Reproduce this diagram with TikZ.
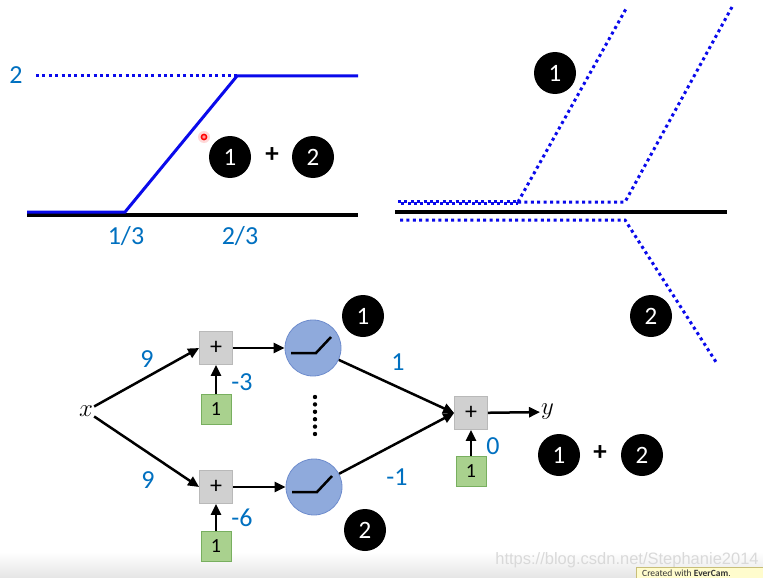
\documentclass[tikz,border=0pt]{standalone}
\usepackage{fontspec}
\setmainfont{Carlito}
\newfontfamily\wmfont{Liberation Sans}
\usetikzlibrary{arrows.meta}
\definecolor{lblue}{RGB}{0,112,192}
\definecolor{cblue}{RGB}{10,10,235}
\definecolor{sumfill}{RGB}{208,208,208}
\definecolor{sumdraw}{RGB}{185,185,185}
\definecolor{biasfill}{RGB}{169,209,142}
\definecolor{biasdraw}{RGB}{120,175,95}
\definecolor{neurfill}{RGB}{143,170,220}
\definecolor{neurdraw}{RGB}{110,140,205}
\definecolor{evfill}{RGB}{255,252,205}
\definecolor{evdraw}{RGB}{200,190,120}
\begin{document}
\begin{tikzpicture}[x=1pt,y=-1pt,
  numc/.style={circle,fill=black,text=white,minimum size=42pt,inner sep=0pt,font=\fontsize{25}{25}\selectfont},
  plusbig/.style={font=\bfseries\fontsize{27}{27}\selectfont},
  lbl/.style={text=lblue,font=\fontsize{26}{26}\selectfont,inner sep=0pt},
  sumbox/.style={draw=sumdraw,fill=sumfill,minimum size=33pt,inner sep=0pt,line width=0.8pt,font=\fontsize{24}{24}\selectfont},
  biasbox/.style={draw=biasdraw,fill=biasfill,minimum size=30pt,inner sep=0pt,line width=0.8pt,font=\fontsize{20}{20}\selectfont},
  neuron/.style={circle,draw=neurdraw,fill=neurfill,minimum size=56pt,inner sep=0pt,line width=0.8pt},
  conn/.style={line width=2.5pt,-{Triangle[length=11pt,width=10pt]}},
  plain/.style={line width=2.5pt},
  axis/.style={line width=4pt,black},
  curve/.style={line width=3pt,cblue},
  dotline/.style={line width=3pt,cblue,dash pattern=on 3pt off 3.4pt},
  varl/.style={font=\fontsize{27}{27}\selectfont,inner sep=1pt}
]
\useasboundingbox (0,0) rectangle (763,578);
\fill[white] (0,0) rectangle (763,578);
\shade[top color=white,bottom color=black!10] (0,552) rectangle (763,578);

% ---------- top-left graph ----------
\draw[axis] (27,215) -- (358,215);
\draw[dotline] (36,76) -- (237,76);
\draw[curve] (27,212) -- (125,212) -- (237,76) -- (358,76);
\node[lbl] (ltwo) at (16,75) {2};
\node[lbl] (lthird) at (126,236) {1/3};
\node[lbl] (ltwothird) at (240,236) {2/3};
\node[numc] (tlone) at (230,157) {1};
\node[plusbig] (tlplus) at (272,155) {+};
\node[numc] (tltwo) at (313,157) {2};
% laser pointer dot
\fill[red!25,opacity=0.6] (204,137) circle (6pt);
\draw[red,line width=1.5pt,fill=red!40] (204,137) circle (2.6pt);

% ---------- top-right graph ----------
\draw[axis] (395,212) -- (727,212);
\draw[dotline] (398,201) -- (518,201);
\draw[dotline,dash phase=3.2pt] (398,203.5) -- (518,203.5);
\draw[dotline] (518,202) -- (627,7);
\draw[dotline] (518,202) -- (625,202) -- (732,7);
\draw[dotline] (400,220) -- (625,220) -- (716,362);
\node[numc] (trone) at (555,73) {1};
\node[numc] (trtwo) at (651,316) {2};

% ---------- network ----------
\node[varl] (x) at (86,411) {$x$};
\node[sumbox] (s1) at (216,348) {+};
\node[sumbox] (s2) at (216,487) {+};
\node[biasbox] (b1) at (216,409) {1};
\node[biasbox] (b2) at (216,546) {1};
\node[neuron] (n1) at (313,348) {};
\node[neuron] (n2) at (314,487) {};
\node[sumbox] (o) at (471,413) {+};
\node[biasbox] (bo) at (471,471) {1};
\node[varl,anchor=west] (y) at (540,412) {$y$};

\draw[plain,line join=miter] ([shift={(-22,5)}]n1.center) -- ([shift={(3,5)}]n1.center) -- ([shift={(18,-11)}]n1.center);
\draw[plain,line join=miter] ([shift={(-22,5)}]n2.center) -- ([shift={(3,5)}]n2.center) -- ([shift={(18,-11)}]n2.center);

\draw[conn] (x) -- (s1.west);
\draw[conn] (x) -- (s2.west);
\draw[conn] (b1) -- (s1);
\draw[conn] (b2) -- (s2);
\draw[conn] (s1) -- (n1);
\draw[conn] (s2) -- (n2);
\draw[conn] (n1) -- (o.west);
\draw[conn] (n2) -- (o.west);
\draw[conn] (bo) -- (o);
\draw[conn] (o) -- (y);

\foreach \k in {0,...,5} \fill (315,397+\k*7.4) circle (2.2pt);

\node[lbl] (w1) at (147,359) {9};
\node[lbl] (w2) at (148,480) {9};
\node[lbl] (c1) at (242,382) {-3};
\node[lbl] (c2) at (242,518) {-6};
\node[lbl] (v1) at (398,362) {1};
\node[lbl] (v2) at (397,477) {-1};
\node[lbl] (c0) at (493,446) {0};

\node[numc] (bnone) at (363,316) {1};
\node[numc] (bntwo) at (365,530) {2};
\node[numc] (brone) at (559,455) {1};
\node[plusbig] (brplus) at (600,453) {+};
\node[numc] (brtwo) at (642,455) {2};

% ---------- watermark / stamp ----------
\node[text=black!15,font=\wmfont\fontsize{16.5}{16.5}\selectfont] (wm) at (627,560) {https://blog.csdn.net/Stephanie2014};
\fill[evfill] (636,567) rectangle (763,578);
\draw[evdraw,line width=0.7pt] (636,578) -- (636,567) -- (763,567);
\node[anchor=north west,inner sep=0pt,font=\fontsize{9.5}{9.5}\selectfont,text=black!80] (ev) at (642,570) {Created with \textbf{EverCam}.};
\end{tikzpicture}
\end{document}
